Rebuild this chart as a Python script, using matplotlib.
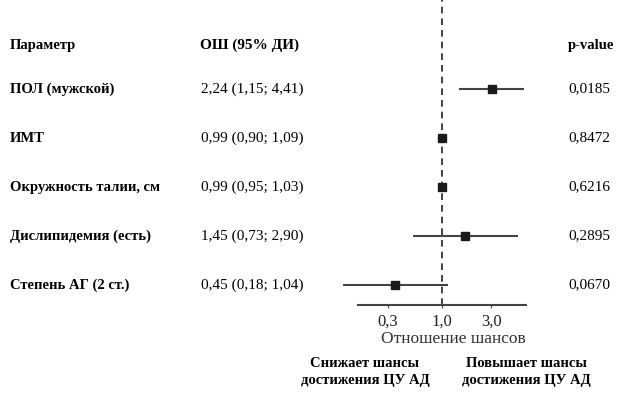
import matplotlib
matplotlib.use("Agg")
import matplotlib.pyplot as plt
import matplotlib.transforms as mtransforms
import numpy as np

plt.rcParams['font.family'] = ['Liberation Serif', 'DejaVu Serif']

# данные
params = ['ПОЛ (мужской)', 'ИМТ', 'Окружность талии, см',
          'Дислипидемия (есть)', 'Степень АГ (2 ст.)']
or_text = ['2,24 (1,15; 4,41)', '0,99 (0,90; 1,09)', '0,99 (0,95; 1,03)',
           '1,45 (0,73; 2,90)', '0,45 (0,18; 1,04)']
p_values = ['0,0185', '0,8472', '0,6216', '0,2895', '0,0670']
# положение точек на графике (как нарисовано)
or_plot = [3.06, 0.99, 0.99, 1.66, 0.35]
lo_plot = [1.47, 0.92, 0.96, 0.52, 0.109]
hi_plot = [6.2, 1.11, 1.03, 5.43, 1.14]
ticks = [0.3, 1.0, 3.0]
tick_labels = ['0,3', '1,0', '3,0']

W, H = 628, 399
fig = plt.figure(figsize=(W / 100, H / 100), dpi=100)

# ось: 1,0 на x=442 px, 103 px на декаду
xlim = (0.08, 9.0)
ppd = 103
left_px = 442 - ppd * np.log10(1 / xlim[0])
right_px = 442 + ppd * np.log10(xlim[1])
bottom_px = 305
ax = fig.add_axes([left_px / W, 1 - bottom_px / H, (right_px - left_px) / W, bottom_px / H])
ax.set_xscale('log')
ax.set_xlim(*xlim)
ax.set_ylim(bottom_px, 0)
ax.patch.set_alpha(0)

row_y = [89 + 49 * i for i in range(len(params))]
gray = '#444444'
for y, m, lo, hi in zip(row_y, or_plot, lo_plot, hi_plot):
    ax.plot([lo, hi], [y, y], color=gray, lw=1.5, solid_capstyle='butt', zorder=2)
    ax.plot(m, y, marker='s', ms=6, color='#1a1a1a', zorder=3)

ax.axvline(1.0, color='#222222', lw=1.2, ls=(0, (4, 3)), zorder=1)

for s in ['left', 'right', 'top']:
    ax.spines[s].set_visible(False)
ax.spines['bottom'].set_bounds(0.153, 6.54)
ax.spines['bottom'].set_color(gray)
ax.spines['bottom'].set_linewidth(1.5)
ax.set_yticks([])
ax.set_xticks(ticks)
ax.set_xticklabels(tick_labels)
ax.xaxis.set_minor_locator(matplotlib.ticker.NullLocator())
ax.tick_params(axis='x', direction='out', length=2.5, width=0.8, color=gray,
               labelsize=12, pad=4, labelcolor='#222222')
fig.text(453 / W, 1 - 339 / H, 'Отношение шансов', fontsize=12.5, color='#333333',
         ha='center', va='center')

# текстовые колонки
tr = mtransforms.blended_transform_factory(fig.transFigure, ax.transData)
fs = 10.5
ax.text(10 / W, 45, 'Параметр', transform=tr, fontsize=fs, fontweight='bold',
        va='center', ha='left', clip_on=False)
ax.text(250 / W, 45, 'ОШ (95% ДИ)', transform=tr, fontsize=fs + 0.5, fontweight='bold',
        va='center', ha='center', clip_on=False)
ax.text(568 / W, 45, 'p-value', transform=tr, fontsize=fs, fontweight='bold',
        va='center', ha='left', clip_on=False)
for y, name, txt, p in zip(row_y, params, or_text, p_values):
    ax.text(10 / W, y, name, transform=tr, fontsize=fs, fontweight='bold',
            va='center', ha='left', clip_on=False)
    ax.text(252 / W, y, txt, transform=tr, fontsize=fs + 0.5,
            va='center', ha='center', clip_on=False)
    ax.text(568 / W, y, p, transform=tr, fontsize=fs + 0.5,
            va='center', ha='left', clip_on=False)

fig.text(365 / W, 1 - 372 / H, 'Снижает шансы\nдостижения ЦУ АД', fontsize=fs,
         fontweight='bold', ha='center', va='center', linespacing=1.45)
fig.text(526 / W, 1 - 372 / H, 'Повышает шансы\nдостижения ЦУ АД', fontsize=fs,
         fontweight='bold', ha='center', va='center', linespacing=1.45)

fig.savefig('out.png', dpi=100, facecolor='white')
